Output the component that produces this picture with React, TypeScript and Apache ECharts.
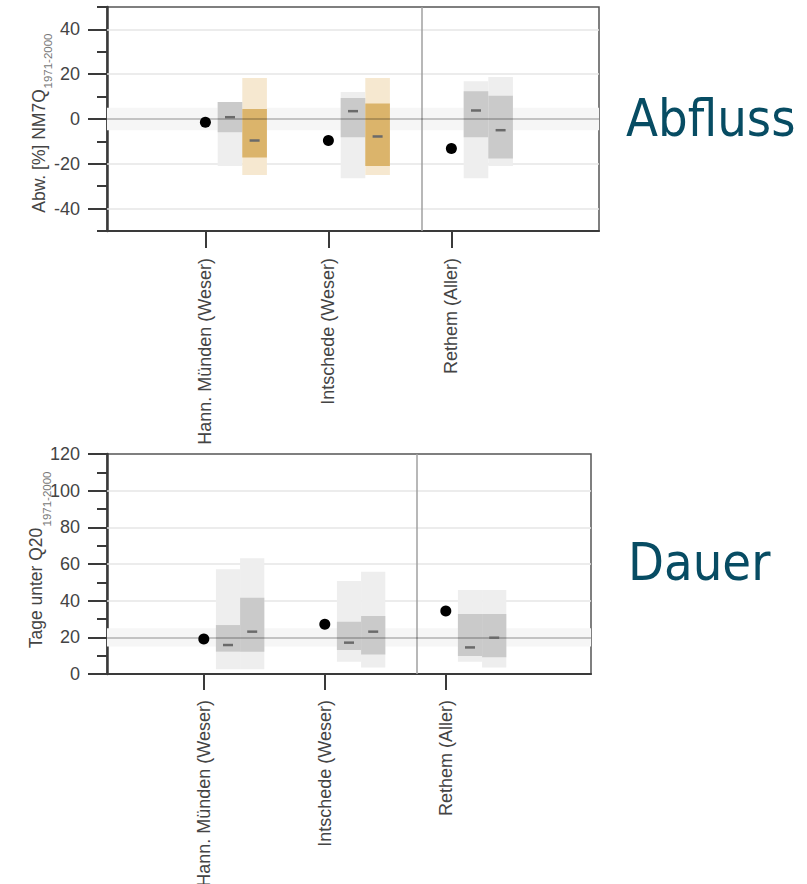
import React, { useEffect, useRef } from "react";
import * as echarts from "echarts";

// ---------- data ----------
const stations = ["Hann. Münden (Weser)", "Intschede (Weser)", "Rethem (Aller)"];
const stationPos = [1, 2, 3];

// Abfluss: Abw. [%] NM7Q 1971-2000
const abflussTitle = "Abw. [%] NM7Q";
const abflussTicks = [-40, -20, 0, 20, 40];
const abflussMinorTicks = [-50, -30, -10, 10, 30, 50];
const abflussGridLines = [-40, -20, 20, 40];
const abflussRef = 0;
const abflussObs = [-1.5, -9.6, -13.2];
const abflussP1Min = [-21, -26.4, -26.4];
const abflussP1Q25 = [-5.9, -8.1, -8.1];
const abflussP1Med = [0.8, 3.5, 3.8];
const abflussP1Q75 = [7.6, 9.4, 12.4];
const abflussP1Max = [7.6, 12.1, 16.8];
const abflussP2Min = [-25, -25, -21];
const abflussP2Q25 = [-17.2, -21, -17.6];
const abflussP2Med = [-9.6, -7.8, -5];
const abflussP2Q75 = [4.5, 6.9, 10.4];
const abflussP2Max = [18.3, 18.3, 18.7];
const abflussP2Signal = [1, 1, 0];

// Dauer: Tage unter Q20 1971-2000
const dauerTitle = "Tage unter Q20";
const dauerTicks = [0, 20, 40, 60, 80, 100, 120];
const dauerMinorTicks = [10, 30, 50, 70, 90, 110];
const dauerGridLines = [40, 60, 80, 100];
const dauerRef = 20;
const dauerObs = [19.1, 27.1, 34.4];
const dauerP1Min = [2.6, 6.7, 6.7];
const dauerP1Q25 = [12.2, 13.1, 9.8];
const dauerP1Med = [15.8, 17.1, 14.5];
const dauerP1Q75 = [26.7, 28.5, 32.7];
const dauerP1Max = [57.1, 50.7, 45.8];
const dauerP2Min = [2.6, 3.6, 3.6];
const dauerP2Q25 = [12.2, 10.7, 9.1];
const dauerP2Med = [23.1, 23.1, 19.8];
const dauerP2Q75 = [41.6, 31.6, 32.7];
const dauerP2Max = [63.1, 55.8, 45.8];
const dauerP2Signal = [0, 0, 0];

const refPeriod = "1971-2000";
const separatorPos = 2.76;

// ---------- styling ----------
const FONT = "'Liberation Sans', Arial, sans-serif";
const AXIS_COLOR = "#3a3a3a";
const LABEL_COLOR = "#444";
const P1_OFF = [0.1, 0.3];
const P2_OFF = [0.3, 0.5];
const LIGHT = ["#eeeeee", "#f6e8d0"];
const DARK = ["#cacaca", "#dbb46b"];

type Panel = {
  obs: number[];
  p1: number[][]; // min,q25,med,q75,max
  p2: number[][];
  sig: number[];
  ref: number;
  grid: number[];
};

function buildSeries(g: number, yIdx: number, p: Panel) {
  const light: any[] = [];
  const dark: any[] = [];
  const med: any[] = [];
  stationPos.forEach((c, i) => {
    light.push([c + P1_OFF[0], c + P1_OFF[1], p.p1[0][i], p.p1[4][i], 0]);
    light.push([c + P2_OFF[0], c + P2_OFF[1], p.p2[0][i], p.p2[4][i], p.sig[i]]);
    dark.push([c + P1_OFF[0], c + P1_OFF[1], p.p1[1][i], p.p1[3][i], 0]);
    dark.push([c + P2_OFF[0], c + P2_OFF[1], p.p2[1][i], p.p2[3][i], p.sig[i]]);
    med.push([c + (P1_OFF[0] + P1_OFF[1]) / 2, p.p1[2][i]]);
    med.push([c + (P2_OFF[0] + P2_OFF[1]) / 2, p.p2[2][i]]);
  });
  const rectRender = (palette: string[]) => (params: any, api: any) => {
    const a = api.coord([api.value(0), api.value(3)]);
    const b = api.coord([api.value(1), api.value(2)]);
    return {
      type: "rect",
      shape: { x: a[0], y: a[1], width: b[0] - a[0], height: b[1] - a[1] },
      style: { fill: palette[api.value(4) ? 1 : 0] },
    };
  };
  return [
    {
      type: "scatter",
      xAxisIndex: g,
      yAxisIndex: yIdx,
      data: [],
      z: 1,
      silent: true,
      markArea: {
        silent: true,
        z: 1,
        itemStyle: { color: "#f6f6f6" },
        data: [[{ yAxis: p.ref - 5 }, { yAxis: p.ref + 5 }]],
      },
      markLine: {
        silent: true,
        z: 1,
        symbol: "none",
        label: { show: false },
        data: [
          ...p.grid.map((v) => ({ yAxis: v, lineStyle: { color: "#e6e6e6", width: 1.5, type: "solid" } })),
          { xAxis: separatorPos, lineStyle: { color: "#a0a0a0", width: 1.5, type: "solid" } },
        ],
      },
    },
    {
      type: "custom",
      xAxisIndex: g,
      yAxisIndex: yIdx,
      z: 2,
      encode: { x: [0, 1], y: [2, 3] },
      renderItem: rectRender(LIGHT),
      data: light,
    },
    {
      type: "custom",
      xAxisIndex: g,
      yAxisIndex: yIdx,
      z: 3,
      encode: { x: [0, 1], y: [2, 3] },
      renderItem: rectRender(DARK),
      data: dark,
    },
    {
      type: "scatter",
      xAxisIndex: g,
      yAxisIndex: yIdx,
      z: 4,
      symbol: "rect",
      symbolSize: [10, 2.5],
      itemStyle: { color: "#6a6a6a", opacity: 1 },
      data: med,
      markLine: {
        silent: true,
        z: 4,
        symbol: "none",
        label: { show: false },
        data: [{ yAxis: p.ref, lineStyle: { color: "rgba(0,0,0,0.28)", width: 1.5, type: "solid" } }],
      },
    },
    {
      type: "scatter",
      xAxisIndex: g,
      yAxisIndex: yIdx,
      z: 6,
      symbol: "circle",
      symbolSize: 11,
      itemStyle: { color: "#000", opacity: 1 },
      data: stationPos.map((c, i) => [c, p.obs[i]]),
    },
  ];
}

function xAxis(g: number, margin: number, tickLen: number) {
  return {
    type: "value",
    gridIndex: g,
    min: 0.2,
    max: 4.2,
    axisLine: { show: true, onZero: false, lineStyle: { color: AXIS_COLOR, width: 2 } },
    axisTick: { show: true, customValues: stationPos, length: tickLen, lineStyle: { color: AXIS_COLOR, width: 2 } },
    axisLabel: {
      show: true,
      customValues: stationPos,
      formatter: (v: number) => stations[Math.round(v) - 1] ?? "",
      rotate: 90,
      margin,
      fontSize: 18,
      color: LABEL_COLOR,
      fontFamily: FONT,
    },
    splitLine: { show: false },
  };
}

function yMain(g: number, min: number, max: number, ticks: number[]) {
  return {
    type: "value",
    gridIndex: g,
    position: "left",
    min,
    max,
    axisLine: { show: true, onZero: false, lineStyle: { color: AXIS_COLOR, width: 2.5 } },
    axisTick: { show: true, customValues: ticks, length: 19, lineStyle: { color: AXIS_COLOR, width: 2 } },
    axisLabel: { show: true, customValues: ticks, margin: 27, fontSize: 18, color: LABEL_COLOR, fontFamily: FONT },
    splitLine: { show: false },
  };
}

function yMinor(g: number, min: number, max: number, ticks: number[]) {
  return {
    type: "value",
    gridIndex: g,
    position: "left",
    offset: 0,
    min,
    max,
    axisLine: { show: false, onZero: false },
    axisTick: { show: true, customValues: ticks, length: 10, lineStyle: { color: AXIS_COLOR, width: 2 } },
    axisLabel: { show: false },
    splitLine: { show: false },
  };
}

function titleText(text: string, x: number, y: number, size: number, color: string) {
  return {
    type: "text",
    x,
    y,
    rotation: Math.PI / 2,
    style: { text, fontSize: size, fontFamily: FONT, fill: color, align: "center", verticalAlign: "middle" },
  };
}

export default function App() {
  const ref = useRef<HTMLDivElement>(null);
  useEffect(() => {
    if (!ref.current) return;
    const chart = echarts.init(ref.current, undefined, { renderer: "svg" });
    const top: Panel = {
      obs: abflussObs,
      p1: [abflussP1Min, abflussP1Q25, abflussP1Med, abflussP1Q75, abflussP1Max],
      p2: [abflussP2Min, abflussP2Q25, abflussP2Med, abflussP2Q75, abflussP2Max],
      sig: abflussP2Signal,
      ref: abflussRef,
      grid: abflussGridLines,
    };
    const bottom: Panel = {
      obs: dauerObs,
      p1: [dauerP1Min, dauerP1Q25, dauerP1Med, dauerP1Q75, dauerP1Max],
      p2: [dauerP2Min, dauerP2Q25, dauerP2Med, dauerP2Q75, dauerP2Max],
      sig: dauerP2Signal,
      ref: dauerRef,
      grid: dauerGridLines,
    };
    const bigFont = "'DejaVu Sans Condensed', 'DejaVu Sans', sans-serif";
    chart.setOption({
      animation: false,
      backgroundColor: "#fff",
      grid: [
        { left: 107, top: 7, width: 492, height: 224, outerBoundsMode: "none", containLabel: false, show: true, borderColor: "#555", borderWidth: 1.5, backgroundColor: "transparent" },
        { left: 107, top: 454, width: 484, height: 220, outerBoundsMode: "none", containLabel: false, show: true, borderColor: "#555", borderWidth: 1.5, backgroundColor: "transparent" },
      ],
      xAxis: [xAxis(0, 27, 17), xAxis(1, 26, 16)],
      yAxis: [
        yMain(0, -50, 50, abflussTicks),
        yMinor(0, -50, 50, abflussMinorTicks),
        yMain(1, 0, 120, dauerTicks),
        yMinor(1, 0, 120, dauerMinorTicks),
      ],
      series: [...buildSeries(0, 0, top), ...buildSeries(1, 2, bottom)],
      graphic: [
        titleText(abflussTitle, 39, 151, 17.5, LABEL_COLOR),
        titleText(refPeriod, 47.5, 61, 11.5, "#777"),
        titleText(dauerTitle, 36, 588, 17.5, LABEL_COLOR),
        titleText(refPeriod, 46.5, 499, 11.5, "#777"),
        {
          type: "text",
          left: 626,
          top: 92,
          style: { text: "Abfluss", fontSize: 52, fontFamily: bigFont, fill: "#074c63" },
        },
        {
          type: "text",
          left: 628,
          top: 536,
          style: { text: "Dauer", fontSize: 52, fontFamily: bigFont, fill: "#074c63" },
        },
      ],
    });
    return () => chart.dispose();
  }, []);
  return <div ref={ref} style={{ position: "absolute", left: 0, top: 0, width: 807, height: 884 }} />;
}
